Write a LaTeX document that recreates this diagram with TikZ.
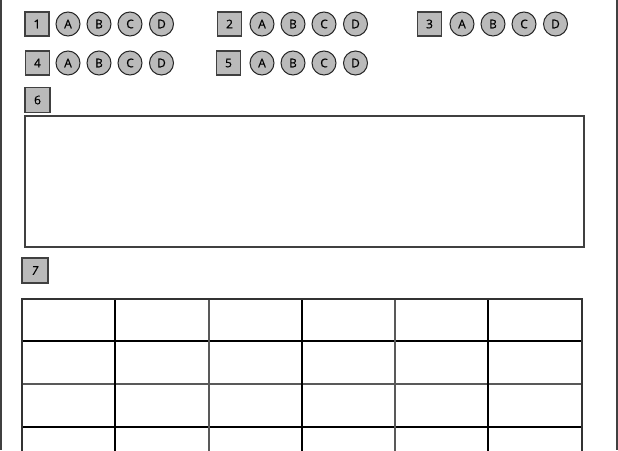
\documentclass[tikz,border=0pt]{standalone}
\usepackage{fontspec}
\setmainfont{Open Sans}
\newfontfamily\labfont[FakeBold=0.6]{Open Sans}
\begin{document}
\begin{tikzpicture}[x=1pt,y=-1pt,
  numbox/.style={draw=black!75,line width=1.2pt,fill=black!27,minimum width=24pt,minimum height=24pt,inner sep=0pt,font=\labfont\fontsize{12}{13}\selectfont},
  opt/.style={circle,draw=black!85,line width=1pt,fill=black!27,minimum size=24pt,inner sep=0pt,font=\labfont\fontsize{12}{13}\selectfont},
  frame/.style={draw=black!75,line width=1.3pt},
  grid/.style={draw=black,line width=1.1pt}]
\useasboundingbox (0,0) rectangle (618,450);
% page borders
\draw[frame] (1,0) -- (1,450);
\draw[frame] (617,0) -- (617,450);
% question groups
\foreach \n/\bx/\ax/\y in {1/37/68/24, 2/229.5/262/24, 3/429.5/462/24, 4/37.5/68/63, 5/228.5/262/63}{
  \node[numbox] (q\n) at (\bx,\y) {\n};
  \node[opt] (q\n a) at (\ax,\y) {A};
  \node[opt] (q\n b) at (\ax+31,\y) {B};
  \node[opt] (q\n c) at (\ax+62,\y) {C};
  \node[opt] (q\n d) at (\ax+93.5,\y) {D};
}
\node[numbox,minimum width=25pt,minimum height=25pt] (q6) at (37.5,100) {6};
\node[draw=black!75,line width=1.2pt,minimum width=559pt,minimum height=131pt,inner sep=0pt] (ans6) at (304.5,181.5) {};
\node[numbox,minimum width=26pt,minimum height=25pt,font=\labfont\fontsize{12}{13}\selectfont\itshape] (q7) at (35,270.5) {7};
% table
\begin{scope}
\clip (0,0) rectangle (618,450);
\foreach \yy in {341,427}{\draw[grid] (22,\yy) -- (582,\yy);}
\draw[draw=black!65,line width=1.4pt] (22,384) -- (582,384);
\foreach \xx in {115,302,488}{\draw[grid] (\xx,299) -- (\xx,460);}
\foreach \xx in {209,395}{\draw[draw=black!65,line width=1.3pt] (\xx,299) -- (\xx,460);}
\draw[draw=black!80,line width=1.4pt] (22,460) -- (22,299) -- (582,299) -- (582,460);
\end{scope}
\end{tikzpicture}
\end{document}
